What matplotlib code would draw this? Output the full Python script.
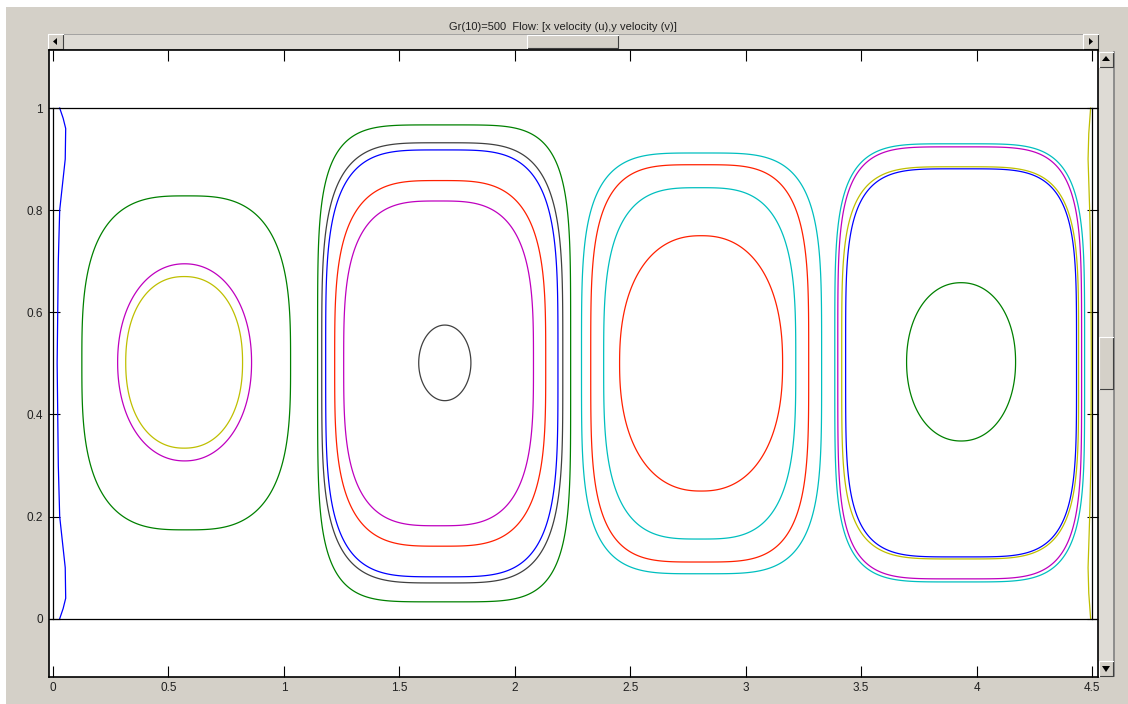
import numpy as np
import matplotlib.pyplot as plt
from matplotlib.patches import Rectangle, Polygon

plt.rcParams['font.family'] = ['Liberation Sans', 'DejaVu Sans']

title = 'Gr(10)=500  Flow: [x velocity (u),y velocity (v)]'

# closed streamlines: centre, half width, half height, squareness, colour
loop_cx = [0.577, 0.570, 0.568,
           1.694, 1.686, 1.684, 1.677, 1.670, 1.697,
           2.809, 2.801, 2.801, 2.807,
           3.927, 3.927, 3.929, 3.933, 3.933]
loop_cy = [0.501, 0.502, 0.502,
           0.500, 0.501, 0.500, 0.500, 0.500, 0.501,
           0.500, 0.500, 0.500, 0.500,
           0.501, 0.501, 0.501, 0.501, 0.503]
loop_rx = [0.452, 0.290, 0.253,
           0.548, 0.522, 0.503, 0.457, 0.411, 0.113,
           0.520, 0.472, 0.416, 0.353,
           0.541, 0.528, 0.513, 0.500, 0.236]
loop_ry = [0.327, 0.193, 0.168,
           0.467, 0.431, 0.418, 0.358, 0.318, 0.074,
           0.412, 0.389, 0.344, 0.250,
           0.429, 0.423, 0.384, 0.380, 0.155]
loop_n = [3.0, 2.1, 2.2,
          4.8, 4.0, 3.9, 3.4, 3.2, 2.0,
          4.0, 3.8, 3.2, 2.3,
          4.6, 4.6, 4.3, 4.3, 2.1]
loop_col = ['g', 'm', 'y',
            'g', 'k', 'b', 'r', 'm', 'k',
            'c', 'r', 'c', 'r',
            'c', 'm', 'y', 'b', 'g']

# open streamlines hugging the side walls
left_wall_y = [0.0, 0.02, 0.04, 0.1, 0.2, 0.3, 0.5, 0.7, 0.8, 0.9, 0.96, 0.98, 1.0]
left_wall_x = [0.029, 0.044, 0.055, 0.053, 0.029, 0.023, 0.018, 0.023, 0.029, 0.053, 0.055, 0.044, 0.029]
right_wall_y = [0.0, 0.05, 0.1, 0.2, 0.3, 0.5, 0.7, 0.8, 0.9, 0.95, 1.0]
right_wall_x = [4.494, 4.486, 4.483, 4.490, 4.495, 4.497, 4.495, 4.490, 4.483, 4.486, 4.494]

xticks = [0, 0.5, 1, 1.5, 2, 2.5, 3, 3.5, 4, 4.5]
xtick_labels = ['0', '0.5', '1', '1.5', '2', '2.5', '3', '3.5', '4', '4.5']
yticks = [0, 0.2, 0.4, 0.6, 0.8, 1]
ytick_labels = ['0', '0.2', '0.4', '0.6', '0.8', '1']

colours = {'b': '#0000ff', 'g': '#008000', 'r': '#ff2000', 'c': '#00bfbf',
           'm': '#bf00bf', 'y': '#bfbf00', 'k': '#404040'}

W, H = 1128, 704
bg = '#d4d0c8'
fig = plt.figure(figsize=(W / 100, H / 100), dpi=100, facecolor=bg)

# window chrome in pixel coordinates
ov = fig.add_axes([0, 0, 1, 1])
ov.set_xlim(0, W)
ov.set_ylim(H, 0)
ov.axis('off')
ov.set_zorder(-1)
ov.add_patch(Rectangle((0, 0), W, 7, fc='white', ec='none'))
ov.add_patch(Rectangle((0, 0), 6, H, fc='white', ec='none'))


def button(x, y, w, h):
    ov.add_patch(Rectangle((x, y), w, h, fc=bg, ec='none'))
    ov.plot([x, x + w, x + w], [y + h, y + h, y], color='#404040', lw=0.8)
    ov.plot([x, x, x + w], [y + h, y, y], color='white', lw=0.8)


# horizontal slider
ov.add_patch(Rectangle((48, 34), 1050, 15, fc='#dedbd5', ec='#9a9a9a', lw=0.6))
button(48, 34, 15, 15)
ov.add_patch(Polygon([[53, 41.5], [57, 38], [57, 45]], closed=True, fc='k', ec='none'))
button(1083, 34, 15, 15)
ov.add_patch(Polygon([[1093, 41.5], [1089, 38], [1089, 45]], closed=True, fc='k', ec='none'))
button(527, 35, 91, 13)

# vertical slider
ov.add_patch(Rectangle((1098, 52), 16, 624, fc='#dedbd5', ec='none'))
ov.plot([1114, 1114], [52, 676], color='#808080', lw=1.2)
button(1099, 52, 14, 15)
ov.add_patch(Polygon([[1106, 56], [1102, 61], [1110, 61]], closed=True, fc='k', ec='none'))
button(1099, 661, 14, 15)
ov.add_patch(Polygon([[1106, 672], [1102, 666], [1110, 666]], closed=True, fc='k', ec='none'))
button(1099, 337, 14, 52)

fig.text(563 / W, 1 - 27 / H, title, ha='center', va='center', fontsize=8, color='#202020')

ax = fig.add_axes([48.7 / W, 1 - 676.7 / H, (1098 - 48.7) / W, (676.7 - 50) / H])
ax.set_facecolor('white')
ax.set_xlim(-0.0186, 4.526)
ax.set_ylim(-0.1136, 1.1137)

t = np.linspace(0, 2 * np.pi, 600, endpoint=False)
for cx, cy, rx, ry, n, c in zip(loop_cx, loop_cy, loop_rx, loop_ry, loop_n, loop_col):
    ct, st = np.cos(t), np.sin(t)
    xs = cx + rx * np.sign(ct) * np.abs(ct) ** (2 / n)
    ys = cy + ry * np.sign(st) * np.abs(st) ** (2 / n)
    ax.add_patch(Polygon(np.column_stack([xs, ys]), closed=True, fill=False,
                         ec=colours[c], lw=0.9))

ax.plot(left_wall_x, left_wall_y, color=colours['b'], lw=0.9)
ax.plot(right_wall_x, right_wall_y, color=colours['y'], lw=0.9)

# domain outline
ax.axhline(0, color='k', lw=0.9)
ax.axhline(1, color='k', lw=0.9)
ax.plot([0, 0], [0, 1], color='k', lw=0.9)
ax.plot([4.5, 4.5], [0, 1], color='k', lw=0.9)

ax.set_xticks(xticks)
ax.set_xticklabels(xtick_labels)
ax.set_yticks(yticks)
ax.set_yticklabels(ytick_labels)
ax.tick_params(direction='in', top=True, right=True, length=8, width=0.8,
               labelsize=8.5, pad=4, colors='k', labelcolor='#202020')
for s in ax.spines.values():
    s.set_linewidth(1.2)
    s.set_color('k')

fig.savefig('out.png', dpi=100, facecolor=bg)
